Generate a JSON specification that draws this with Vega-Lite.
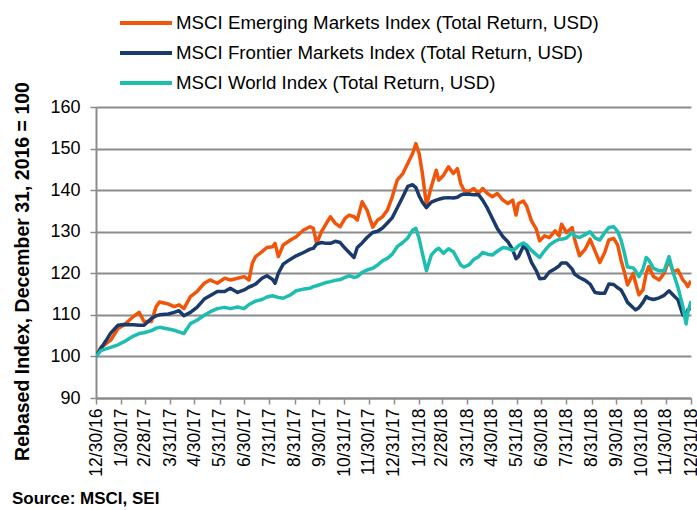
{
  "$schema": "https://vega.github.io/schema/vega-lite/v6.json",
  "width": 595,
  "height": 291,
  "autosize": {"type": "none"},
  "padding": {"left": 96, "top": 107, "right": 6, "bottom": 112},
  "background": "white",
  "config": {"font": "Liberation Sans", "view": {"stroke": null}},
  "title": {"text": "Source: MSCI, SEI", "orient": "bottom", "anchor": "start", "frame": "bounds", "fontSize": 17, "fontWeight": "bold", "color": "#000000", "offset": 15},
  "data": {"values": [
    {"d": "2016/12/30", "em": 100, "fm": 100, "w": 100},
    {"d": "2017/01/05", "em": 102.2, "fm": 101.9, "w": 101.4},
    {"d": "2017/01/11", "em": 103.0, "fm": 103.7, "w": 101.8},
    {"d": "2017/01/17", "em": 103.9, "fm": 105.6, "w": 102.2},
    {"d": "2017/01/26", "em": 106.7, "fm": 107.5, "w": 102.8},
    {"d": "2017/02/02", "em": 107.5, "fm": 107.7, "w": 103.5},
    {"d": "2017/02/14", "em": 109.6, "fm": 107.6, "w": 104.9},
    {"d": "2017/02/21", "em": 110.6, "fm": 107.5, "w": 105.5},
    {"d": "2017/02/27", "em": 108.4, "fm": 107.5, "w": 105.7},
    {"d": "2017/03/08", "em": 108.4, "fm": 109.1, "w": 106.2},
    {"d": "2017/03/14", "em": 112, "fm": 109.8, "w": 106.8},
    {"d": "2017/03/18", "em": 113.1, "fm": 110, "w": 107},
    {"d": "2017/03/29", "em": 112.6, "fm": 110.2, "w": 106.6},
    {"d": "2017/04/05", "em": 112, "fm": 110.6, "w": 106.3},
    {"d": "2017/04/11", "em": 112.4, "fm": 111, "w": 105.9},
    {"d": "2017/04/17", "em": 111.5, "fm": 109.8, "w": 105.5},
    {"d": "2017/04/25", "em": 114.4, "fm": 110.6, "w": 107.9},
    {"d": "2017/05/03", "em": 115.6, "fm": 111.8, "w": 108.7},
    {"d": "2017/05/12", "em": 117.6, "fm": 113.8, "w": 109.9},
    {"d": "2017/05/19", "em": 118.4, "fm": 114.6, "w": 110.7},
    {"d": "2017/05/28", "em": 117.6, "fm": 115.6, "w": 111.5},
    {"d": "2017/06/06", "em": 118.8, "fm": 115.6, "w": 111.8},
    {"d": "2017/06/13", "em": 118.4, "fm": 116.4, "w": 111.5},
    {"d": "2017/06/22", "em": 118.8, "fm": 115.4, "w": 111.9},
    {"d": "2017/06/30", "em": 119.2, "fm": 116, "w": 111.5},
    {"d": "2017/07/06", "em": 118.4, "fm": 116.7, "w": 112.5},
    {"d": "2017/07/10", "em": 122.4, "fm": 117, "w": 112.9},
    {"d": "2017/07/14", "em": 124, "fm": 117.4, "w": 113.3},
    {"d": "2017/07/22", "em": 125.2, "fm": 118.8, "w": 113.7},
    {"d": "2017/07/28", "em": 126.2, "fm": 119.4, "w": 114.3},
    {"d": "2017/08/04", "em": 126.4, "fm": 118.5, "w": 114.6},
    {"d": "2017/08/07", "em": 127.2, "fm": 117.6, "w": 114.4},
    {"d": "2017/08/11", "em": 124, "fm": 120, "w": 114.2},
    {"d": "2017/08/17", "em": 126.8, "fm": 122.2, "w": 114},
    {"d": "2017/08/26", "em": 128, "fm": 123.4, "w": 114.8},
    {"d": "2017/09/02", "em": 128.8, "fm": 124.2, "w": 115.8},
    {"d": "2017/09/11", "em": 130.4, "fm": 125, "w": 116.2},
    {"d": "2017/09/19", "em": 131.2, "fm": 125.8, "w": 116.4},
    {"d": "2017/09/23", "em": 130.8, "fm": 126, "w": 116.8},
    {"d": "2017/09/27", "em": 127.2, "fm": 127, "w": 117},
    {"d": "2017/10/03", "em": 130, "fm": 127.4, "w": 117.4},
    {"d": "2017/10/09", "em": 132, "fm": 127.2, "w": 117.8},
    {"d": "2017/10/14", "em": 133.6, "fm": 127.2, "w": 118},
    {"d": "2017/10/20", "em": 132, "fm": 127.7, "w": 118.3},
    {"d": "2017/10/26", "em": 131.2, "fm": 127.4, "w": 118.5},
    {"d": "2017/11/01", "em": 133.2, "fm": 126, "w": 119},
    {"d": "2017/11/06", "em": 134, "fm": 125, "w": 119.4},
    {"d": "2017/11/12", "em": 133.6, "fm": 123.8, "w": 119},
    {"d": "2017/11/16", "em": 132.8, "fm": 126.2, "w": 119.2},
    {"d": "2017/11/22", "em": 137.2, "fm": 127.3, "w": 120.2},
    {"d": "2017/11/28", "em": 135.2, "fm": 128.6, "w": 120.8},
    {"d": "2017/12/05", "em": 131.1, "fm": 129.8, "w": 121.2},
    {"d": "2017/12/11", "em": 132.8, "fm": 130.1, "w": 122},
    {"d": "2017/12/17", "em": 133.6, "fm": 130.9, "w": 123},
    {"d": "2017/12/23", "em": 135.2, "fm": 132.1, "w": 123.6},
    {"d": "2017/12/29", "em": 138.4, "fm": 133.4, "w": 124.6},
    {"d": "2018/01/04", "em": 142.4, "fm": 135.7, "w": 126.4},
    {"d": "2018/01/11", "em": 144, "fm": 138.4, "w": 127.4},
    {"d": "2018/01/17", "em": 146.4, "fm": 140.9, "w": 128.5},
    {"d": "2018/01/23", "em": 148.8, "fm": 141.3, "w": 130.4},
    {"d": "2018/01/27", "em": 151.2, "fm": 140.6, "w": 130.8},
    {"d": "2018/01/31", "em": 148.8, "fm": 138.6, "w": 128.3},
    {"d": "2018/02/04", "em": 144, "fm": 137.1, "w": 124.8},
    {"d": "2018/02/09", "em": 136.4, "fm": 135.8, "w": 120.6},
    {"d": "2018/02/15", "em": 140.8, "fm": 137.1, "w": 124.4},
    {"d": "2018/02/21", "em": 144.8, "fm": 137.6, "w": 125.7},
    {"d": "2018/02/24", "em": 142.4, "fm": 137.8, "w": 126},
    {"d": "2018/03/02", "em": 143.6, "fm": 138.1, "w": 124.8},
    {"d": "2018/03/08", "em": 145.6, "fm": 138.2, "w": 125.9},
    {"d": "2018/03/14", "em": 144, "fm": 138.1, "w": 125.2},
    {"d": "2018/03/19", "em": 145.2, "fm": 138.3, "w": 123.4},
    {"d": "2018/03/23", "em": 141.6, "fm": 138.8, "w": 122},
    {"d": "2018/03/27", "em": 140, "fm": 139.1, "w": 121.5},
    {"d": "2018/04/02", "em": 139.6, "fm": 139, "w": 122},
    {"d": "2018/04/08", "em": 140.4, "fm": 138.9, "w": 123.3},
    {"d": "2018/04/14", "em": 139.2, "fm": 138.9, "w": 124},
    {"d": "2018/04/19", "em": 140.4, "fm": 137.6, "w": 125},
    {"d": "2018/04/25", "em": 139.2, "fm": 135.6, "w": 124.6},
    {"d": "2018/05/01", "em": 138.4, "fm": 133.2, "w": 124.4},
    {"d": "2018/05/07", "em": 139.2, "fm": 130.8, "w": 125.3},
    {"d": "2018/05/14", "em": 137.6, "fm": 128.8, "w": 126.2},
    {"d": "2018/05/20", "em": 136.8, "fm": 127.6, "w": 126},
    {"d": "2018/05/26", "em": 137.6, "fm": 125.6, "w": 125.5},
    {"d": "2018/05/30", "em": 134, "fm": 123.5, "w": 126},
    {"d": "2018/06/02", "em": 136.8, "fm": 124, "w": 126.6},
    {"d": "2018/06/08", "em": 137.4, "fm": 126.5, "w": 127.3},
    {"d": "2018/06/12", "em": 136.2, "fm": 125.8, "w": 126.8},
    {"d": "2018/06/18", "em": 132.6, "fm": 122.6, "w": 125.5},
    {"d": "2018/06/24", "em": 130.6, "fm": 120.6, "w": 124.5},
    {"d": "2018/06/28", "em": 127.8, "fm": 118.7, "w": 123.8},
    {"d": "2018/07/04", "em": 129, "fm": 118.8, "w": 125.4},
    {"d": "2018/07/10", "em": 128.6, "fm": 120.3, "w": 126.8},
    {"d": "2018/07/17", "em": 130.2, "fm": 121.1, "w": 127.7},
    {"d": "2018/07/22", "em": 129, "fm": 121.8, "w": 128.2},
    {"d": "2018/07/25", "em": 131.8, "fm": 122.5, "w": 128.2},
    {"d": "2018/07/31", "em": 129.8, "fm": 122.5, "w": 128.5},
    {"d": "2018/08/07", "em": 131, "fm": 121, "w": 129.8},
    {"d": "2018/08/10", "em": 128.2, "fm": 119.8, "w": 129},
    {"d": "2018/08/16", "em": 124.2, "fm": 119, "w": 128.6},
    {"d": "2018/08/23", "em": 125.8, "fm": 118.3, "w": 129.3},
    {"d": "2018/08/29", "em": 128.2, "fm": 117.4, "w": 130},
    {"d": "2018/09/04", "em": 125.4, "fm": 115.4, "w": 128.5},
    {"d": "2018/09/10", "em": 122.6, "fm": 115.2, "w": 128},
    {"d": "2018/09/16", "em": 125, "fm": 115.2, "w": 129.8},
    {"d": "2018/09/21", "em": 128, "fm": 117.4, "w": 131},
    {"d": "2018/09/27", "em": 128.4, "fm": 117.3, "w": 131.2},
    {"d": "2018/10/02", "em": 126.8, "fm": 116.5, "w": 130},
    {"d": "2018/10/06", "em": 123.2, "fm": 116, "w": 128},
    {"d": "2018/10/10", "em": 120.4, "fm": 114.6, "w": 125},
    {"d": "2018/10/14", "em": 117.2, "fm": 113, "w": 121.5},
    {"d": "2018/10/21", "em": 120, "fm": 111.7, "w": 121.3},
    {"d": "2018/10/24", "em": 117.6, "fm": 111.2, "w": 120.6},
    {"d": "2018/10/28", "em": 114.8, "fm": 111.7, "w": 119.2},
    {"d": "2018/11/02", "em": 116, "fm": 113, "w": 121},
    {"d": "2018/11/06", "em": 120, "fm": 114.4, "w": 123.8},
    {"d": "2018/11/09", "em": 121.6, "fm": 114, "w": 123.2},
    {"d": "2018/11/15", "em": 119.2, "fm": 113.7, "w": 121.2},
    {"d": "2018/11/22", "em": 118.4, "fm": 114.1, "w": 120.6},
    {"d": "2018/11/28", "em": 120, "fm": 114.7, "w": 120.6},
    {"d": "2018/12/04", "em": 123.2, "fm": 115.8, "w": 124},
    {"d": "2018/12/09", "em": 120.4, "fm": 114.8, "w": 120.2},
    {"d": "2018/12/15", "em": 120.8, "fm": 113.6, "w": 116.6},
    {"d": "2018/12/21", "em": 118.4, "fm": 110, "w": 112},
    {"d": "2018/12/25", "em": 117.5, "fm": 110.3, "w": 107.8},
    {"d": "2018/12/27", "em": 116.8, "fm": 111.2, "w": 110.5},
    {"d": "2018/12/31", "em": 118.2, "fm": 111.6, "w": 113.3}
  ]},
  "transform": [{"fold": ["em", "fm", "w"], "as": ["series", "value"]}],
  "mark": {"type": "line", "strokeWidth": 3.5, "strokeJoin": "round", "clip": true},
  "encoding": {
    "x": {
      "field": "d", "type": "temporal",
      "scale": {"domain": [{"year": 2016, "month": 12, "date": 30}, {"year": 2018, "month": 12, "date": 31}], "nice": false},
      "axis": {
        "title": null,
        "values": [
          {"year": 2016, "month": 12, "date": 30},
          {"year": 2017, "month": 1, "date": 30},
          {"year": 2017, "month": 2, "date": 28},
          {"year": 2017, "month": 3, "date": 31},
          {"year": 2017, "month": 4, "date": 30},
          {"year": 2017, "month": 5, "date": 31},
          {"year": 2017, "month": 6, "date": 30},
          {"year": 2017, "month": 7, "date": 31},
          {"year": 2017, "month": 8, "date": 31},
          {"year": 2017, "month": 9, "date": 30},
          {"year": 2017, "month": 10, "date": 31},
          {"year": 2017, "month": 11, "date": 30},
          {"year": 2017, "month": 12, "date": 31},
          {"year": 2018, "month": 1, "date": 31},
          {"year": 2018, "month": 2, "date": 28},
          {"year": 2018, "month": 3, "date": 31},
          {"year": 2018, "month": 4, "date": 30},
          {"year": 2018, "month": 5, "date": 31},
          {"year": 2018, "month": 6, "date": 30},
          {"year": 2018, "month": 7, "date": 31},
          {"year": 2018, "month": 8, "date": 31},
          {"year": 2018, "month": 9, "date": 30},
          {"year": 2018, "month": 10, "date": 31},
          {"year": 2018, "month": 11, "date": 30},
          {"year": 2018, "month": 12, "date": 31}
        ],
        "format": "%-m/%-d/%y",
        "labelAngle": -90,
        "labelFontSize": 17.5,
        "labelColor": "#000000",
        "labelPadding": 4,
        "labelOverlap": false,
        "labelBound": false,
        "labelFlush": false,
        "grid": false,
        "domainColor": "#8c8c8c",
        "domainWidth": 2,
        "tickColor": "#8c8c8c",
        "tickWidth": 1.5,
        "tickSize": 6
      }
    },
    "y": {
      "field": "value", "type": "quantitative",
      "scale": {"domain": [90, 160], "nice": false, "zero": false},
      "axis": {
        "values": [90, 100, 110, 120, 130, 140, 150, 160],
        "title": "Rebased Index, December 31, 2016 = 100",
        "titleFontSize": 19.5,
        "titleLimit": 1000,
        "titleFontWeight": "bold",
        "titleColor": "#000000",
        "titleAngle": -90,
        "titleAlign": "center",
        "titleBaseline": "middle",
        "titleX": -74,
        "titleY": 164,
        "labelFontSize": 18,
        "labelColor": "#000000",
        "labelPadding": 10,
        "grid": true,
        "gridColor": "#8c8c8c",
        "gridWidth": 2,
        "domainColor": "#8c8c8c",
        "domainWidth": 2,
        "tickColor": "#8c8c8c",
        "tickWidth": 1.5,
        "tickSize": 6
      }
    },
    "color": {
      "field": "series", "type": "nominal",
      "scale": {"domain": ["em", "fm", "w"], "range": ["#F0550A", "#1B3A6C", "#1DBDB0"]},
      "legend": {
        "orient": "none",
        "legendX": 22,
        "legendY": -93,
        "title": null,
        "direction": "vertical",
        "symbolType": "stroke",
        "symbolSize": 2704,
        "symbolStrokeWidth": 4,
        "clipHeight": 18,
        "labelFontSize": 18.7,
        "labelColor": "#000000",
        "labelOffset": 2,
        "labelLimit": 600,
        "rowPadding": 11,
        "labelExpr": "datum.label == 'em' ? 'MSCI Emerging Markets Index (Total Return, USD)' : datum.label == 'fm' ? 'MSCI Frontier Markets Index (Total Return, USD)' : 'MSCI World Index (Total Return, USD)'"
      }
    }
  }
}
